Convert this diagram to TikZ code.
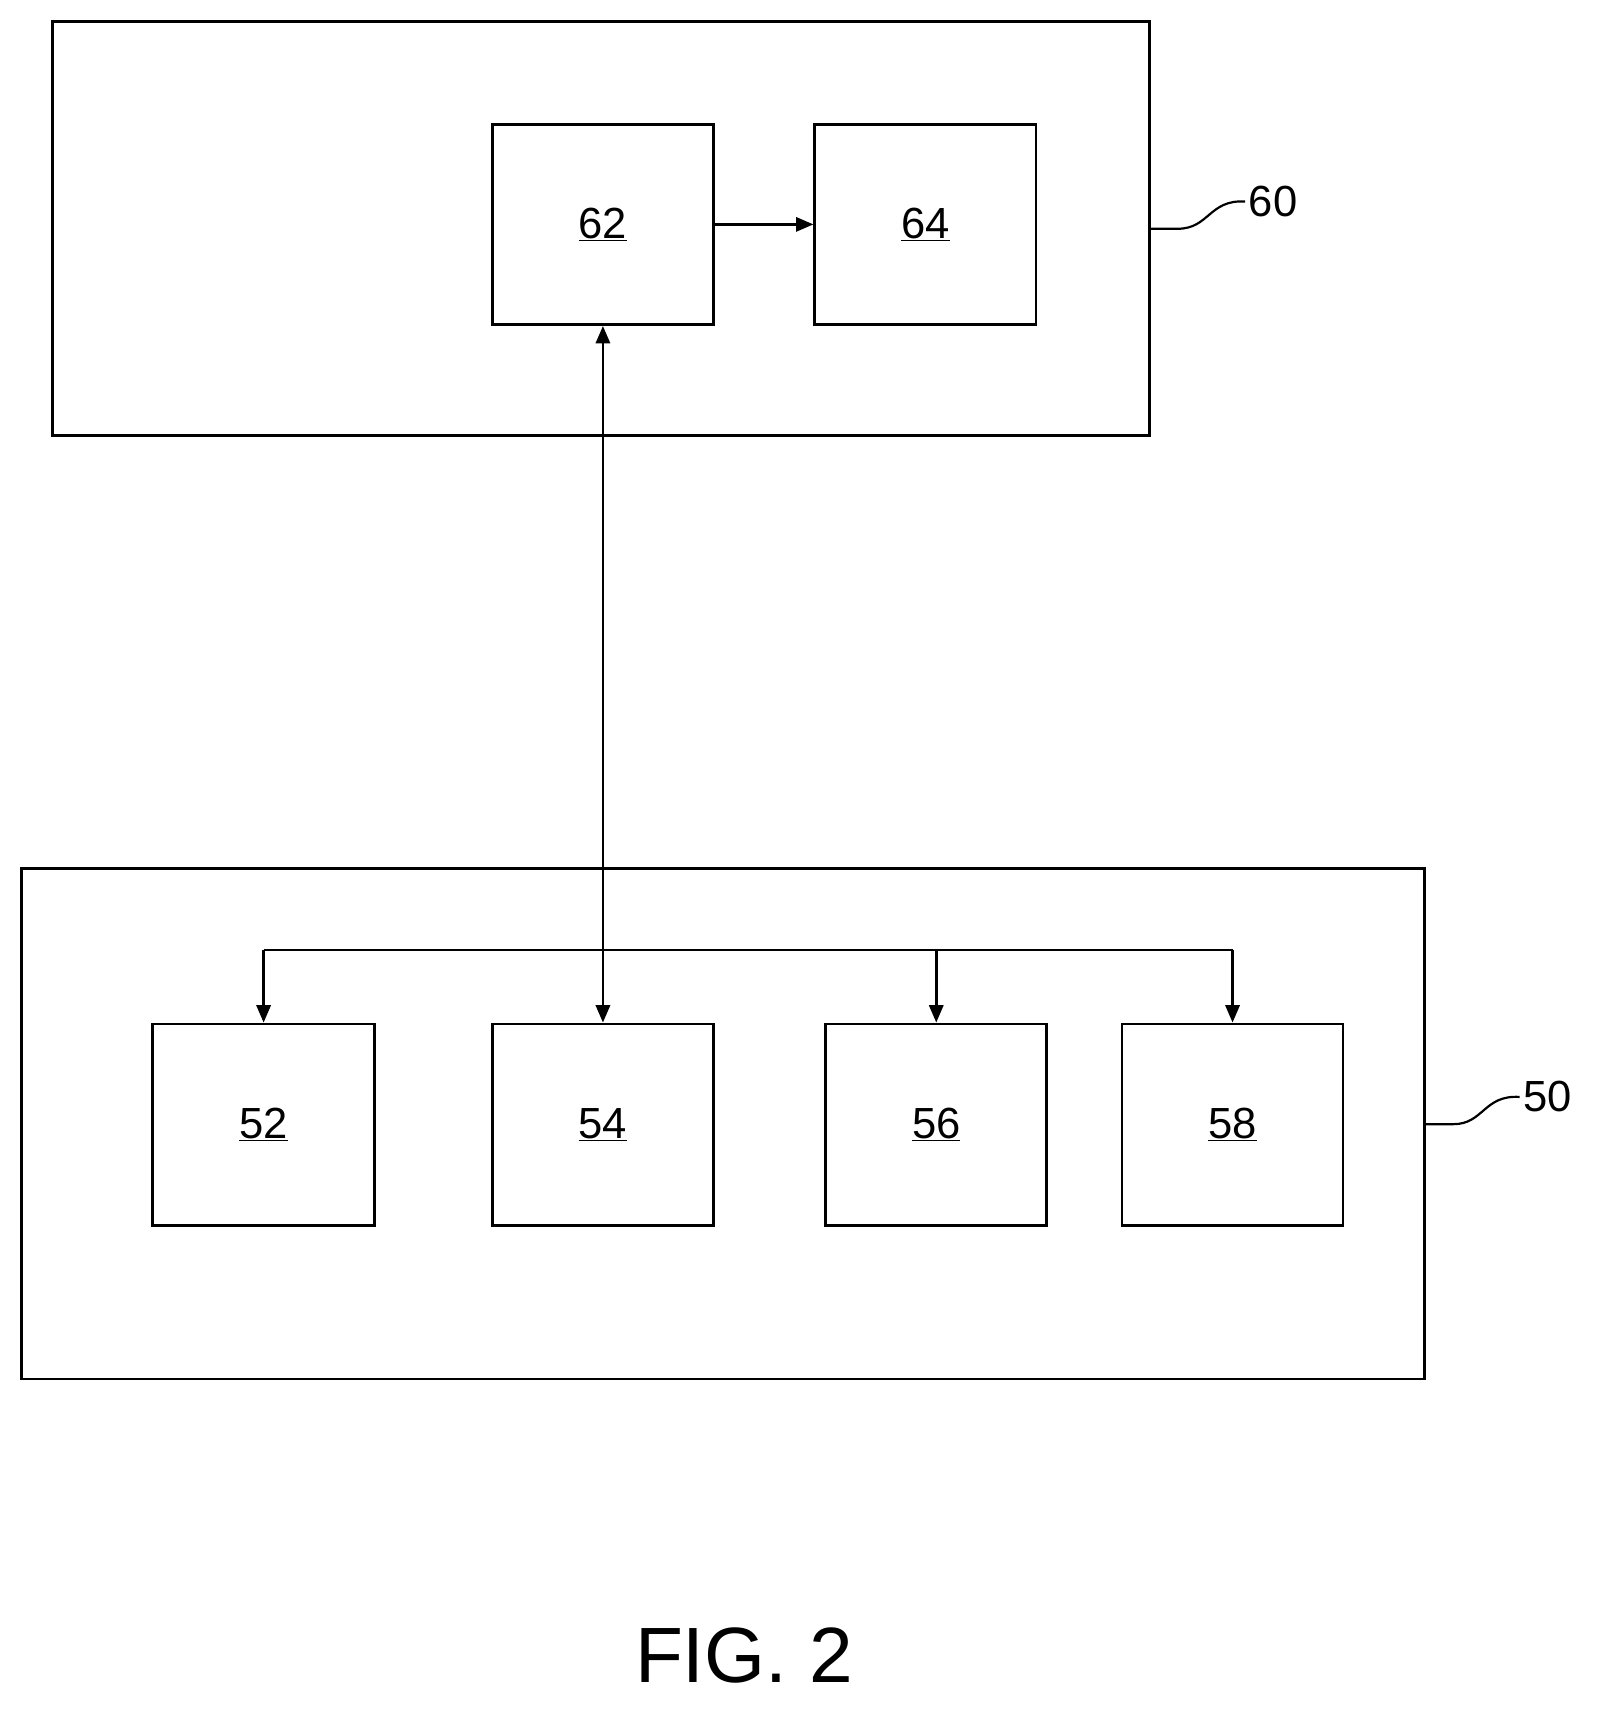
\documentclass[tikz,border=0pt]{standalone}
\usepackage{fontspec}
\setmainfont{Liberation Sans}
\usetikzlibrary{arrows.meta}
\begin{document}
\begin{tikzpicture}[x=1pt,y=-1pt,
  box/.style={draw,line width=2.5pt,inner sep=0pt},
  arr/.style={line width=2.5pt,-{Triangle[length=16pt,width=13pt]}},
  lbl/.style={font=\fontsize{40}{44}\selectfont},
  ref/.style={lbl,anchor=west}]
\useasboundingbox (0,0) rectangle (1470,1579);
\newcommand{\ul}[1]{\underline{#1}}
\node[box,minimum width=1007pt,minimum height=380pt] (b60) at (551.5,210) {};
\node[box,minimum width=203pt,minimum height=184pt,lbl] (b62) at (553.5,206) {\ul{62}};
\node[box,minimum width=203pt,minimum height=184pt,lbl] (b64) at (849.5,206) {\ul{64}};
\node[box,minimum width=1288pt,minimum height=469pt] (b50) at (664,1031.5) {};
\node[box,minimum width=204pt,minimum height=185pt,lbl] (b52) at (242,1032.5) {\ul{52}};
\node[box,minimum width=203pt,minimum height=185pt,lbl] (b54) at (553.5,1032.5) {\ul{54}};
\node[box,minimum width=203pt,minimum height=185pt,lbl] (b56) at (859.5,1032.5) {\ul{56}};
\node[box,minimum width=203pt,minimum height=185pt,lbl] (b58) at (1131.5,1032.5) {\ul{58}};
\node[ref] (l60) at (1143,185) {60};
\node[ref] (l50) at (1395,1007) {50};
\node[font=\fontsize{72}{80}\selectfont] (fig) at (683,1520) {FIG. 2};
\draw[arr] (b62) -- (b64);
\draw[line width=2.5pt,{Triangle[length=16pt,width=13pt]}-{Triangle[length=16pt,width=13pt]}] (b62.south) -- (b54.north);
\coordinate (bl) at (242,872);
\coordinate (br) at (1131.5,872);
\draw[line width=2.5pt] (bl) -- (br);
\draw[arr] (bl) -- (b52.north);
\draw[arr] (859.5,872) -- (b56.north);
\draw[arr] (br) -- (b58.north);
\draw[line width=2pt] (b60.east |- 0,210) -- ++(25,0) .. controls (1110,210) and (1110,183) .. (l60.west);
\draw[line width=2pt] (b50.east |- 0,1032) -- ++(25,0) .. controls (1362,1032) and (1362,1005) .. (l50.west);
\end{tikzpicture}
\end{document}
